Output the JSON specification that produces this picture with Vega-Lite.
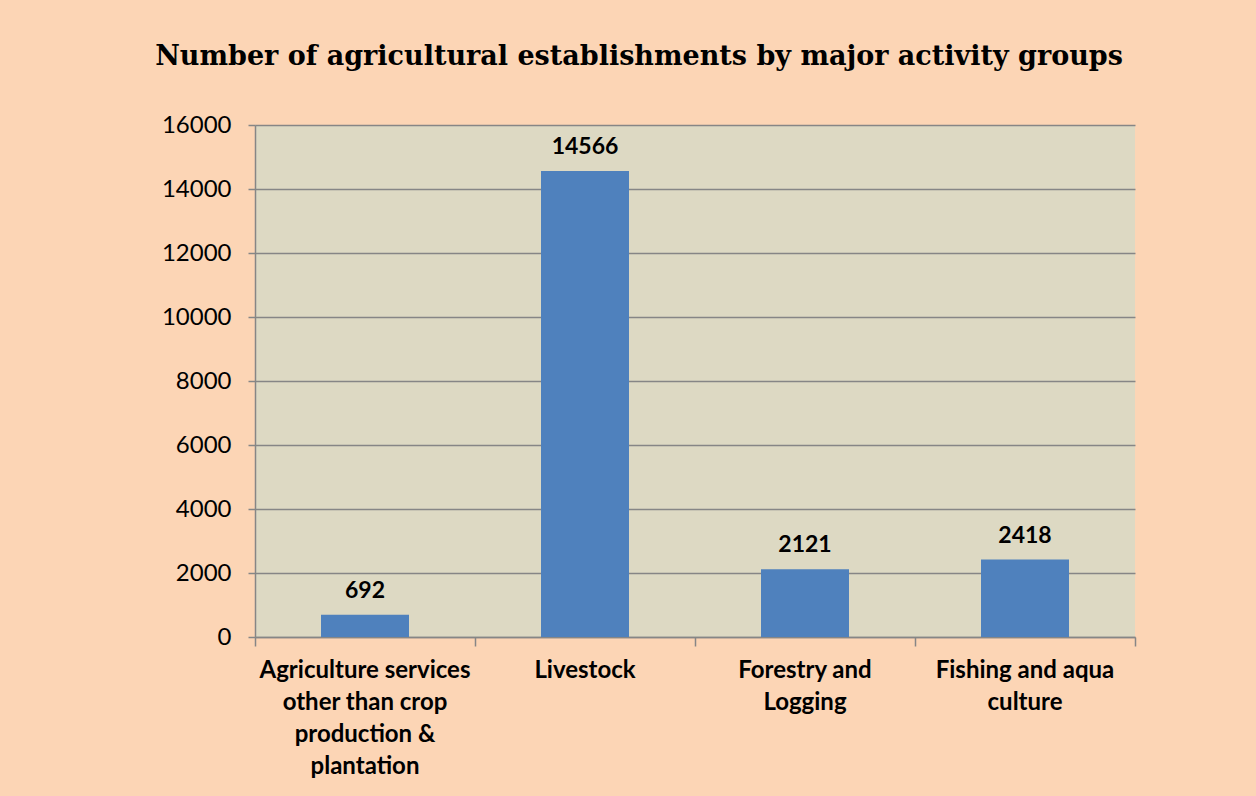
{
  "$schema": "https://vega.github.io/schema/vega-lite/v6.json",
  "width": 880,
  "height": 512,
  "autosize": "none",
  "padding": {"left": 255, "top": 125, "right": 121, "bottom": 159},
  "background": "#FCD5B5",
  "title": {
    "text": "Number of agricultural establishments by major activity groups",
    "font": "DejaVu Serif",
    "fontSize": 27,
    "fontWeight": "bold",
    "color": "#000000",
    "anchor": "middle",
    "dx": -56,
    "offset": 42
  },
  "data": {
    "values": [
      {"activity": "Agriculture services other than crop production & plantation", "count": 692},
      {"activity": "Livestock", "count": 14566},
      {"activity": "Forestry and Logging", "count": 2121},
      {"activity": "Fishing and aqua culture", "count": 2418}
    ]
  },
  "encoding": {
    "x": {
      "field": "activity",
      "type": "nominal",
      "sort": null,
      "title": null,
      "scale": {"paddingInner": 0, "paddingOuter": 0},
      "axis": {
        "labelAngle": 0,
        "labelFont": "Lato",
        "labelFontSize": 24,
        "labelFontWeight": "bold",
        "labelColor": "#000000",
        "labelLineHeight": 32,
        "labelPadding": 12,
        "labelLimit": 400,
        "ticks": true,
        "bandPosition": 1,
        "tickExtra": true,
        "tickSize": 9,
        "tickColor": "#868686",
        "tickWidth": 1.5,
        "domainColor": "#868686",
        "domainWidth": 1.5,
        "grid": false,
        "labelExpr": "datum.label == 'Agriculture services other than crop production & plantation' ? ['Agriculture services','other than crop','production &','plantation'] : datum.label == 'Forestry and Logging' ? ['Forestry and','Logging'] : datum.label == 'Fishing and aqua culture' ? ['Fishing and aqua','culture'] : datum.label"
      }
    },
    "y": {
      "field": "count",
      "type": "quantitative",
      "title": null,
      "scale": {"domain": [0, 16000], "nice": false},
      "axis": {
        "values": [0, 2000, 4000, 6000, 8000, 10000, 12000, 14000, 16000],
        "format": "d",
        "labelFont": "Lato",
        "labelFontSize": 24,
        "labelColor": "#000000",
        "labelPadding": 17,
        "tickSize": 7,
        "tickColor": "#868686",
        "tickWidth": 1.5,
        "domainColor": "#868686",
        "domainWidth": 1.5,
        "grid": true,
        "gridColor": "#868686",
        "gridWidth": 1.5
      }
    }
  },
  "layer": [
    {"mark": {"type": "bar", "color": "#4F81BD", "width": {"band": 0.4}}},
    {
      "mark": {
        "type": "text",
        "baseline": "bottom",
        "dy": -12,
        "font": "Lato",
        "fontSize": 23,
        "fontWeight": "bold",
        "color": "#000000"
      },
      "encoding": {"text": {"field": "count", "type": "quantitative", "format": "d"}}
    }
  ],
  "config": {
    "view": {"fill": "#DDD9C3", "stroke": null}
  }
}
